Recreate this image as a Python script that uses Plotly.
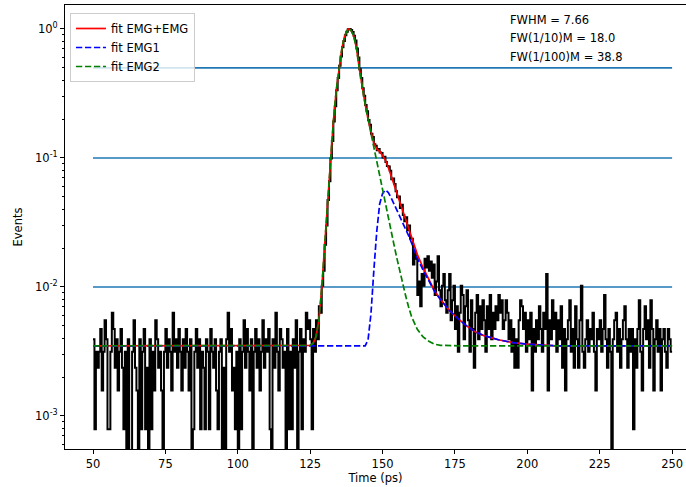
import numpy as np
import plotly.graph_objects as go

# ---- histogram of arrival times (counts per 0.5 ps bin, starting at 50 ps) ----
bin_start = 50.0
bin_width = 0.5
counts = [
    5, 1, 4, 3, 4, 6, 2, 4, 7, 5,
    1, 1, 4, 8, 6, 3, 5, 2, 4, 6,
    3, 1, 4, 0, 5, 0, 0, 4, 7, 3,
    2, 0, 5, 1, 4, 6, 1, 3, 0, 5,
    1, 4, 2, 7, 5, 3, 4, 2, 0, 4,
    6, 3, 5, 4, 2, 8, 4, 5, 3, 6,
    4, 2, 5, 3, 6, 4, 2, 5, 0, 1,
    4, 6, 3, 5, 1, 4, 3, 1, 5, 4,
    1, 6, 4, 3, 5, 2, 1, 4, 5, 0,
    3, 0, 5, 8, 4, 6, 2, 3, 1, 4,
    0, 5, 1, 4, 7, 3, 6, 4, 2, 5,
    0, 4, 6, 3, 5, 2, 4, 7, 3, 5,
    4, 6, 1, 0, 5, 3, 8, 4, 2, 6,
    5, 3, 4, 0, 6, 1, 4, 1, 5, 3,
    7, 0, 4, 6, 1, 5, 4, 8, 6, 7,
    5, 1, 6, 4, 7, 5, 9, 8, 13, 17,
    27, 38, 60, 84, 126, 172, 244, 320, 425, 530,
    660, 778, 915, 1025, 1138, 1210, 1262, 1270, 1248, 1203,
    1126, 1032, 898, 765, 620, 530, 441, 385, 327, 293,
    250, 230, 196, 185, 162, 158, 146, 149, 140, 139,
    128, 130, 118, 110, 109, 101, 87, 88, 80, 70,
    63, 64, 52, 55, 46, 41, 44, 35, 38, 30,
    30, 19, 24, 21, 11, 14, 9, 16, 13, 21,
    18, 22, 17, 20, 15, 19, 11, 14, 22, 12,
    9, 13, 16, 10, 8, 12, 16, 7, 10, 13,
    6, 9, 4, 8, 13, 11, 5, 9, 12, 7,
    4, 10, 6, 3, 8, 11, 5, 9, 6, 10,
    7, 4, 9, 6, 11, 5, 8, 6, 9, 7,
    11, 8, 10, 6, 7, 10, 8, 5, 7, 4,
    6, 3, 5, 3, 7, 10, 9, 6, 8, 4,
    7, 5, 8, 2, 6, 4, 7, 5, 9, 6,
    4, 8, 6, 16, 2, 7, 5, 10, 6, 8,
    4, 7, 5, 9, 3, 6, 2, 5, 7, 10,
    4, 6, 3, 9, 5, 3, 7, 13, 4, 3,
    5, 7, 4, 6, 5, 8, 4, 2, 6, 5,
    7, 4, 6, 11, 5, 3, 6, 4, 0, 5,
    7, 8, 4, 6, 3, 5, 7, 9, 5, 3,
    6, 4, 6, 1, 5, 3, 6, 10, 4, 2,
    6, 9, 5, 7, 3, 10, 6, 2, 5, 7,
    4, 6, 2, 5, 6, 4, 3, 6, 5, 4,
]

# ---- fitted curves (normalised to the histogram maximum) ----
fit_t = [50, 120, 124, 125, 126, 127, 128, 129, 130, 131, 132, 133, 134, 135,
         136, 137, 138, 138.4, 139, 140, 141, 142, 143, 144, 145, 146, 147,
         148, 149, 150, 151, 152, 153, 154, 155, 156, 157, 158, 159, 160, 162,
         164, 166, 168, 170, 173, 176, 179, 182, 185, 190, 195, 200, 205, 210,
         250]
fit_total = [0.0035, 0.0035, 0.0035, 0.00352, 0.00365, 0.0041, 0.0055, 0.0097,
             0.0208, 0.0465, 0.0985, 0.19, 0.332, 0.517, 0.718, 0.893, 0.991,
             1.0, 0.985, 0.89, 0.71, 0.49, 0.35, 0.26, 0.2004, 0.1577, 0.13,
             0.1175, 0.1125, 0.1045, 0.096, 0.0845, 0.0725, 0.0615, 0.052,
             0.0445, 0.0379, 0.033, 0.0285, 0.0244, 0.0179, 0.0141, 0.0113,
             0.0093, 0.00803, 0.0066, 0.0057, 0.0050, 0.0045, 0.0042, 0.0039,
             0.0037, 0.0036, 0.00355, 0.0035, 0.0035]
fit_emg1 = [0.0035] * 24 + [
    0.0039, 0.0062, 0.0135, 0.027, 0.044, 0.053, 0.0565, 0.054, 0.049, 0.044,
    0.039, 0.035, 0.031, 0.028, 0.025, 0.022, 0.0167, 0.0135, 0.011, 0.0092,
    0.0080, 0.0066, 0.0057, 0.0050, 0.0045, 0.0042, 0.0039, 0.0037, 0.0036,
    0.00355, 0.0035, 0.0035]
fit_emg2 = [0.0035, 0.0035, 0.0035, 0.00352, 0.00365, 0.0041, 0.0055, 0.0097,
            0.0208, 0.0465, 0.0985, 0.19, 0.332, 0.517, 0.718, 0.893, 0.991,
            1.0, 0.985, 0.89, 0.71, 0.49, 0.35, 0.26, 0.20, 0.155, 0.12, 0.094,
            0.072, 0.055, 0.043, 0.034, 0.027, 0.021, 0.0165, 0.013, 0.0104,
            0.0085, 0.0070, 0.0059, 0.0047, 0.0041, 0.0038, 0.0036, 0.00353,
            0.0035, 0.0035, 0.0035, 0.0035, 0.0035, 0.0035, 0.0035, 0.0035,
            0.0035, 0.0035, 0.0035]

ref_levels = [0.5, 0.1, 0.01]
ref_span = [50, 250]
stats_text = ["FWHM = 7.66", "FW(1/10)M = 18.0", "FW(1/100)M = 38.8"]

FONT = "DejaVu Sans"
FS = 11.5
LW = 1.7
DASH = "6.3px,2.7px"

counts_arr = np.array(counts, dtype=float)
t_bins = bin_start + bin_width * np.arange(len(counts_arr))
norm = counts_arr / counts_arr.max()
# empty bins are clipped far below the axis, as a log plot does
norm_draw = np.where(norm > 0, norm, 1e-6)
step_x = np.append(t_bins, t_bins[-1] + bin_width)
step_y = np.append(norm_draw, norm_draw[-1])

fig = go.Figure()

for lvl in ref_levels:
    fig.add_trace(go.Scatter(x=ref_span, y=[lvl, lvl], mode="lines",
                             line=dict(color="#1f77b4", width=LW),
                             showlegend=False, hoverinfo="skip"))

fig.add_trace(go.Scatter(x=step_x, y=step_y, mode="lines", line_shape="hv",
                         line=dict(color="black", width=2),
                         showlegend=False))

fig.add_trace(go.Scatter(x=fit_t, y=fit_total, mode="lines",
                         name="fit EMG+EMG",
                         line=dict(color="#ff0000", width=LW)))
fig.add_trace(go.Scatter(x=fit_t, y=fit_emg1, mode="lines", name="fit EMG1",
                         line=dict(color="#0000ff", width=LW, dash=DASH)))
fig.add_trace(go.Scatter(x=fit_t, y=fit_emg2, mode="lines", name="fit EMG2",
                         line=dict(color="#008000", width=LW, dash=DASH)))

for i, txt in enumerate(stats_text):
    fig.add_annotation(xref="paper", yref="paper", x=0.7134,
                       y=[0.966, 0.9257, 0.883][i], text=txt,
                       showarrow=False, xanchor="left", yanchor="middle",
                       font=dict(family=FONT, size=FS, color="black"))

major = [1e-3, 1e-2, 1e-1, 1e0]
minor = [m * d for d in [1e-4, 1e-3, 1e-2, 1e-1] for m in range(2, 10)]

fig.update_layout(
    width=686, height=487,
    margin=dict(l=65, r=0, t=5, b=38),
    paper_bgcolor="white", plot_bgcolor="white",
    font=dict(family=FONT, size=FS, color="black"),
    legend=dict(x=0.008, y=0.982, xanchor="left", yanchor="top",
                bgcolor="rgba(255,255,255,0.8)", bordercolor="#cccccc",
                borderwidth=1, font=dict(size=FS), itemwidth=30,
                tracegroupgap=0),
    xaxis=dict(range=[40.33, 254.8], showgrid=False, zeroline=False,
               showline=True, linecolor="black", linewidth=1, mirror=True,
               ticks="outside", ticklen=4, tickwidth=1, tickcolor="black",
               tickvals=[50, 75, 100, 125, 150, 175, 200, 225, 250],
               tickfont=dict(size=FS),
               title=dict(text="Time (ps)", standoff=3,
                          font=dict(size=FS))),
    yaxis=dict(type="log", range=[-3.256, 0.186], showgrid=False,
               zeroline=False, showline=True, linecolor="black", linewidth=1,
               ticks="outside", ticklen=4, tickwidth=1, tickcolor="black",
               tickvals=major, tickfont=dict(size=FS),
               ticktext=["10<sup>-3</sup>", "10<sup>-2</sup>",
                         "10<sup>-1</sup>", "10<sup>0</sup>"],
               minor=dict(tickvals=minor, ticks="outside", ticklen=2.3,
                          tickwidth=0.8, tickcolor="black", showgrid=False),
               title=dict(text="Events", standoff=10,
                          font=dict(size=FS))),
)

fig.write_html("out.html")
